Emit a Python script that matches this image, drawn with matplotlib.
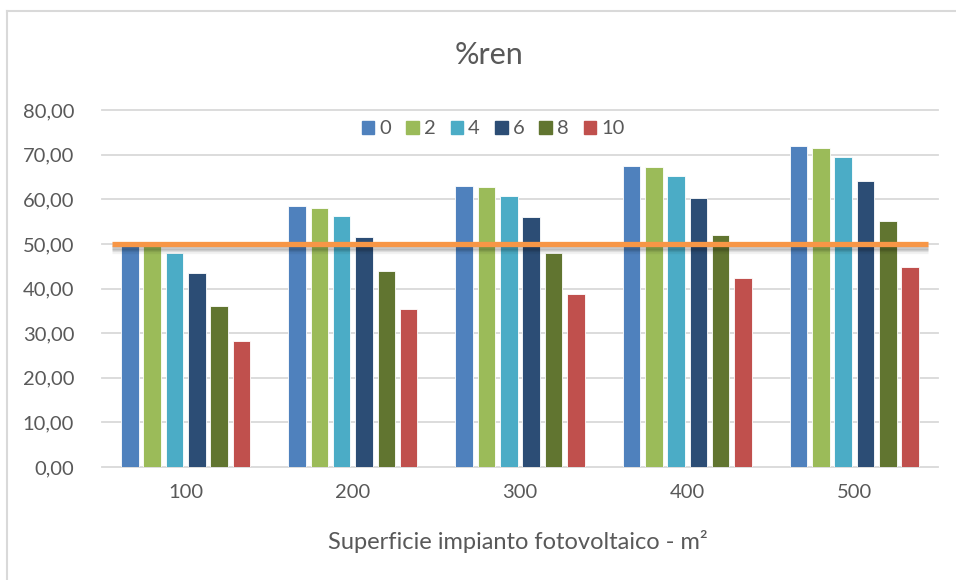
import matplotlib
matplotlib.use("Agg")
import matplotlib.pyplot as plt
import matplotlib.patheffects as pe
from matplotlib.lines import Line2D
import numpy as np

# Data
surfaces = ["100", "200", "300", "400", "500"]
series_names = ["0", "2", "4", "6", "8", "10"]
s0 = [49.8, 58.4, 63.0, 67.5, 71.9]
s2 = [49.6, 58.0, 62.7, 67.2, 71.5]
s4 = [47.9, 56.2, 60.7, 65.2, 69.5]
s6 = [43.4, 51.6, 56.0, 60.3, 64.2]
s8 = [36.1, 43.9, 48.0, 51.9, 55.1]
s10 = [28.2, 35.3, 38.8, 42.3, 44.8]
threshold = 50.0
y_ticks = [0, 10, 20, 30, 40, 50, 60, 70, 80]

series = [s0, s2, s4, s6, s8, s10]
colors = ["#4F81BD", "#9BBB59", "#4BACC6", "#2C4D75", "#617530", "#C0504D"]
text_color = "#595959"
grid_color = "#D9D9D9"

plt.rcParams["font.family"] = ["Lato", "DejaVu Sans"]

fig = plt.figure(figsize=(9.56, 5.8), dpi=100)
ax = fig.add_axes([0.1067, 0.1948, 0.8745, 0.6155])

x = np.arange(len(surfaces))
step = 0.1335
width = 0.105
for i, (vals, col) in enumerate(zip(series, colors)):
    offs = (i - 2.5) * step
    ax.bar(x + offs, vals, width=width, color=col, edgecolor="white",
           linewidth=0.6, zorder=3, label=series_names[i])

# Horizontal reference line with a soft drop shadow
shadow = [pe.SimpleLineShadow(offset=(0, -d), shadow_color="black", alpha=a)
          for d, a in [(5, 0.05), (4, 0.07), (3, 0.08), (2, 0.08)]]
ax.plot([-0.44, 4.44], [threshold, threshold], color="#F79646", lw=3.8,
        solid_capstyle="butt", zorder=5,
        path_effects=shadow + [pe.Normal()])

ax.set_xlim(-0.5, 4.5)
ax.set_ylim(0, 80)
ax.set_yticks(y_ticks)
ax.set_yticklabels([f"{v:.2f}".replace(".", ",") for v in y_ticks])
ax.set_xticks(x)
ax.set_xticklabels(surfaces)
for yv in y_ticks:
    ax.axhline(yv, color=grid_color, lw=1.3, zorder=1, clip_on=False)
for s in ax.spines.values():
    s.set_visible(False)
ax.tick_params(axis="both", length=0, labelsize=14.5, colors=text_color)
ax.tick_params(axis="y", pad=20)
ax.tick_params(axis="x", pad=12)

fig.text(0.511, 0.905, "%ren", ha="center", va="center", fontsize=22,
         color=text_color)
fig.text(0.542, 0.067, "Superficie impianto fotovoltaico - m²", ha="center",
         va="center", fontsize=17, color=text_color)

handles = [plt.Rectangle((0, 0), 1, 1, color=c) for c in colors]
fig.legend(handles, series_names, loc="center", bbox_to_anchor=(0.516, 0.778),
           ncol=6, frameon=False, fontsize=14.5, labelcolor=text_color,
           handlelength=0.62, handleheight=0.62, handletextpad=0.25,
           columnspacing=0.75)

# Chart area border (top and left edges)
fig.add_artist(Line2D([7 / 956, 1], [1 - 11 / 580, 1 - 11 / 580],
                      color=grid_color, lw=1.5))
fig.add_artist(Line2D([7 / 956, 7 / 956], [0, 1 - 11 / 580],
                      color=grid_color, lw=1.5))

fig.savefig("out.png", dpi=100)
